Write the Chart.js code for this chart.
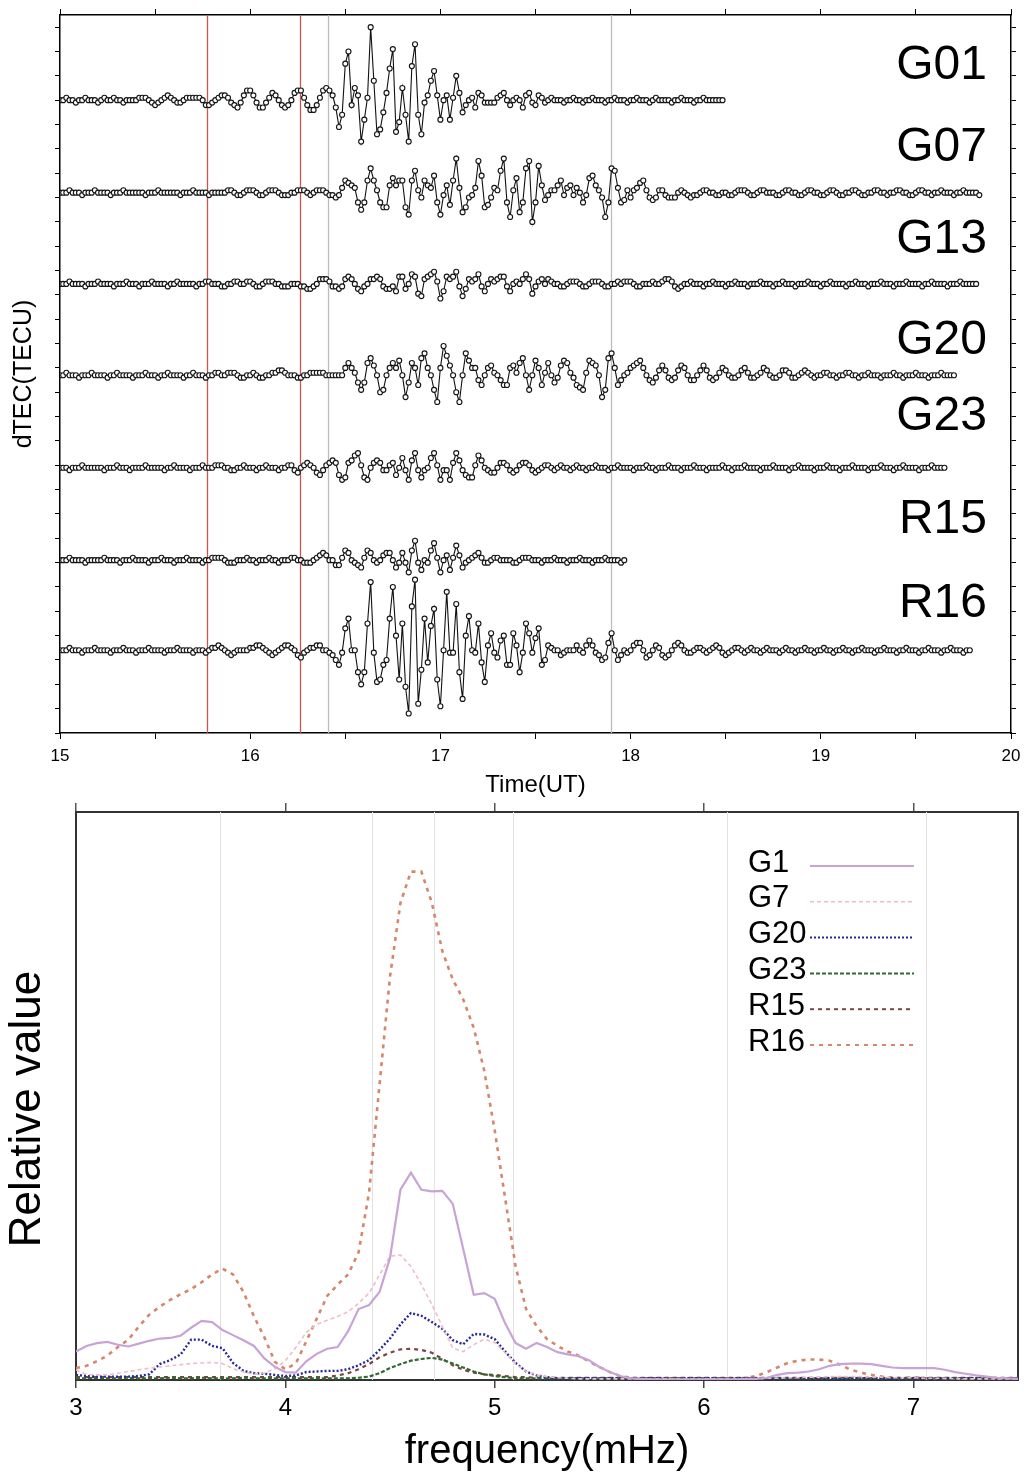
<!DOCTYPE html>
<html><head><meta charset="utf-8">
<script src="https://cdn.jsdelivr.net/npm/chart.js@4.4.1/dist/chart.umd.min.js"></script>
<style>
html,body{margin:0;padding:0;background:#fff;}
body{width:1029px;height:1472px;position:relative;overflow:hidden;}
#c1{position:absolute;left:0;top:0;}
#c2{position:absolute;left:0;top:790px;}
</style></head><body>
<canvas id="c1" width="1029" height="800"></canvas>
<canvas id="c2" width="1029" height="682"></canvas>
<script>
// ---------- TOP PANEL DATA (dTEC, 1-minute samples from 15:00 UT) ----------
const t0 = 15;
const dtMin = 1 / 60;
const satNames = ['G01', 'G07', 'G13', 'G20', 'G23', 'R15', 'R16'];

const dG01 = [
0,0,1,0,0,-1,0,0,1,0, 0,0,-1,0,1,0,0,1,0,0, -1,0,0,0,0,1,1,1,0,-1, -2,-1,0,1,2,1,0,-1,-1,0,
1,1,1,1,1,0,-2,-2,-1,0, 1,2,2,1,-1,-2,-3,-1,2,4, 4,2,-1,-3,-3,-1,1,3,2,0, -2,-3,-2,0,3,4,4,1,-2,-4,
-4,-2,1,4,5,4,2,-3,-11,-6, 15,20,-2,5,2,-17,-8,1,30,8, -14,-12,-5,3,13,21,-13,-9,5,-6, -17,14,23,-6,-14,-1,2,8,12,2,
-8,0,2,-8,1,10,3,-5,-2,0, 1,-3,3,2,-1,-1,-1,-1,1,2, 3,0,-2,0,1,0,-3,2,3,-1, -2,2,1,-1,0,1,0,0,0,-1,
0,0,1,0,0,-1,0,0,1,0, 0,0,-1,0,0,1,0,0,0,-1, 0,0,1,0,0,0,-1,0,1,0, 0,0,0,-1,0,0,1,0,0,0, -1,0,0,1,0,0,0,0,0,0];

const dG07 = [
0,0,0,1,0,0,0,-1,0,0, 0,1,0,0,0,0,-1,0,0,0, 1,0,0,0,0,0,0,-1,0,0, 0,1,0,0,0,0,0,0,-1,0,
0,0,1,0,0,0,0,-1,0,0, 0,0,0,1,1,0,-1,-1,0,1, 1,1,0,-1,-1,0,1,1,1,0, -1,-1,-1,0,0,1,1,1,0,-1,
0,1,1,1,0,-1,-1,-2,-1,2, 5,4,3,2,-4,-7,-4,5,10,5, 1,-4,-6,-6,3,6,3,5,5,-6, -9,5,9,1,-2,5,3,2,7,-4,
-9,-1,3,-5,5,14,2,-8,-6,-2, -1,2,13,7,-6,-5,-2,2,1,9, 14,-4,-10,1,6,-8,-4,10,13,-12, -4,11,3,-3,-1,1,1,3,5,-1,
2,3,-1,2,0,-4,-1,6,7,3, 1,-2,-10,-4,10,9,2,-4,-3,1, -2,1,2,4,5,1,-2,-3,-2,1, 1,-1,-2,-2,-2,0,1,0,-1,-2,
-1,-1,0,1,1,0,0,-1,-1,0, 0,-1,-1,0,1,1,1,0,-1,-1, 0,1,1,0,0,0,-1,-1,0,1, 1,0,0,-1,-1,0,1,1,0,0,
-1,-1,0,1,1,0,-1,-1,0,0, 1,1,0,-1,-1,0,0,1,1,0, 0,-1,0,0,1,1,0,0,-1,-1, 0,1,1,0,0,-1,0,0,1,0,
0,0,-1,0,0,1,0,0,0,0,-1];

const dG13 = [
0,0,0,1,0,0,0,0,-1,0, 0,0,1,0,0,0,0,-1,0,0, 0,1,0,0,0,-1,0,0,0,1, 0,0,0,0,-1,0,0,1,0,0,
0,0,0,-1,0,0,1,1,0,0, 0,-1,-1,0,0,1,1,0,0,1, 1,0,-1,-1,0,1,1,1,0,0, -1,-1,-1,0,0,0,-1,-1,-2,-2,
-1,0,2,2,2,1,-1,-1,-2,-1, 2,3,2,0,-2,-3,-1,0,2,2, 3,2,-1,-2,-2,-1,-3,3,3,-2, 0,4,3,-4,-5,2,3,4,5,1,
-6,-3,3,2,3,5,-1,-5,-2,2, 1,2,4,-1,-3,0,2,1,2,3, 3,-1,-3,0,1,0,2,4,2,-4, -1,1,2,0,2,1,0,0,-1,-1,
0,1,1,1,0,-1,-1,0,1,1, 1,0,-1,-1,0,0,1,0,1,1, 1,0,-1,-1,0,0,0,1,0,0, 1,2,2,1,-1,-2,-1,0,0,1,
0,0,0,-1,0,0,1,0,0,0, -1,0,0,1,0,0,0,-1,0,0, 0,1,0,0,0,-1,0,0,1,0, 0,0,-1,0,0,0,1,0,0,0,
-1,0,0,1,0,0,0,0,-1,0, 0,1,0,0,0,-1,0,0,0,1, 0,0,0,-1,0,0,0,1,0,0, 0,0,-1,0,0,1,0,0,0,0,
-1,0,0,0,1,0,0,0,0,0];

const dG20 = [
0,0,1,0,0,0,-1,0,0,0, 1,0,0,0,0,-1,0,0,1,0, 0,0,0,-1,0,0,0,1,0,0, 0,-1,0,0,1,0,0,0,0,-1,
0,0,1,0,0,0,-1,0,0,1, 1,0,0,1,1,1,0,-1,-1,0, 0,1,0,-1,-1,0,0,1,1,2, 2,1,0,0,0,-1,-1,0,0,1,
1,1,1,1,0,0,0,0,0,0, 3,5,3,1,-3,-6,-3,5,7,4, 0,-7,-6,0,3,5,3,6,0,-9, -3,5,3,-4,7,9,3,0,-6,-11,
3,12,8,4,0,-7,-11,0,9,6, 3,3,-2,-4,0,3,4,1,0,-2, -4,-4,3,4,1,5,7,0,-6,0, 6,3,-4,1,5,0,-3,-1,4,6,
5,1,-1,-4,-5,-6,1,6,5,4, 0,-9,-6,7,9,3,-4,-2,0,1, 3,4,5,6,3,0,-2,-3,-1,2, 4,2,-1,-2,-1,2,4,3,0,-2,
-2,0,2,4,2,-1,-2,-1,1,3, 2,0,-1,-1,0,2,3,1,-1,-1, 0,1,3,2,0,-1,-1,0,2,2, 1,-1,-1,0,1,2,1,0,-1,0,
0,1,1,0,0,-1,0,0,1,1, 0,0,-1,0,0,1,0,0,0,-1, 0,0,0,1,0,0,-1,0,0,0, 1,0,0,0,-1,0,0,0,1,0,
0,0,0];

const dG23 = [
0,0,0,-1,0,0,0,1,0,0, 0,0,0,0,-1,0,0,0,1,0, 0,0,-1,0,0,0,0,1,0,0, 0,0,0,-1,0,0,1,0,0,0,
0,-1,0,0,0,1,0,0,0,1, 1,1,0,0,-1,-1,0,0,1,0, 0,0,-1,0,0,1,0,0,0,-1, 0,0,1,1,-1,-2,0,1,2,1,
0,-2,-3,-1,1,2,3,2,-3,-5, -4,2,3,5,6,1,-4,-5,0,2, 3,2,-1,-1,1,2,-3,0,4,-1, -5,3,6,-1,-4,-1,0,4,6,1,
-5,-1,-1,-5,2,6,3,-1,-3,-4, -4,1,5,3,0,-1,-2,-2,0,2, 2,1,-1,-2,-1,1,2,2,1,-1, -2,-1,0,1,1,0,-1,0,1,0,
0,-1,0,1,0,0,-1,0,0,1, 0,0,0,-1,0,0,1,0,0,0, 0,-1,0,0,0,1,0,0,-1,0, 0,0,1,0,0,0,-1,0,0,0,
1,0,0,0,-1,0,0,0,0,1, 0,0,-1,0,0,0,1,0,0,0, 0,-1,0,0,0,1,0,0,0,0, -1,0,0,1,0,0,0,0,-1,0,
0,0,1,0,0,0,-1,0,0,0, 1,0,0,0,0,-1,0,0,0,1, 0,0,0,-1,0,0,1,0,0,0, 0,-1,0,0,0,1,0,0,0,0];

const dR15 = [
0,0,0,1,0,0,0,0,-1,0, 0,0,0,0,1,0,0,0,0,-1, 0,0,0,1,0,0,0,0,-1,0, 0,0,1,0,0,0,-1,0,0,0,
1,0,0,0,0,-1,0,0,1,1, 1,1,0,-1,-1,-1,0,0,0,1, 0,0,-1,0,0,0,1,0,0,-1, 0,0,0,1,1,0,0,-1,-1,-1,
0,1,2,3,2,0,0,-2,-2,1, 4,3,0,-1,-2,-3,1,4,3,0, -1,0,2,3,3,0,-3,-1,3,-1, -5,4,8,-1,-4,0,-1,4,7,1,
-5,0,2,-4,1,6,2,-3,-1,0, 1,2,3,1,-1,-1,0,1,1,0, 0,0,0,-1,-1,0,1,1,1,0, 0,0,-1,0,0,0,1,0,0,0,
-1,0,0,0,1,0,0,0,-1,0, 0,0,1,0,0,0,0,-1,0];

const dR16 = [
0,0,0,1,0,0,0,-1,0,0, 0,1,0,0,0,0,-1,0,0,0, 1,0,0,0,-1,0,0,0,1,0, 0,0,0,-1,0,0,0,1,0,0,
0,0,-1,0,0,0,-1,0,1,1, 2,1,0,-1,-2,-1,0,0,0,0, 1,1,2,2,1,0,-1,-2,-1,0, 1,2,2,1,0,-2,-3,-1,0,1,
1,2,2,0,0,-1,-2,-4,-6,-1, 9,13,0,0,-9,-14,-9,11,28,-1, -13,-12,-6,-4,13,26,6,-12,11,-15, -26,18,29,-22,-8,13,-5,10,17,-12,
-23,0,24,-1,-1,19,-9,-20,6,14, 0,-1,11,-5,-13,2,7,-1,-3,4, 6,-6,-6,7,2,-9,-1,11,7,-1, 5,9,-6,-4,2,1,0,0,-2,-1,
0,0,0,2,0,-1,2,4,2,-1, -2,-4,-3,3,7,0,-4,-2,0,-1, 0,2,3,3,0,-3,-2,0,2,1, -2,-3,-2,0,2,3,2,0,-1,-1,
0,1,1,0,-1,0,1,2,1,-1, -2,-1,0,1,1,0,-1,0,1,0, 0,-1,0,1,0,0,0,-1,0,1, 0,0,-1,0,0,1,0,0,-1,0,
0,1,0,0,-1,0,0,1,0,0, -1,0,0,1,0,0,0,-1,0,0, 1,0,0,0,-1,0,0,1,0,0, 0,-1,0,0,1,0,0,0,-1,0,
0,1,0,0,0,-1,0,0];

// stacking levels of each trace and label heights (y-axis units)
const traceLevels = [260, 222, 184.5, 147, 109, 71, 34];
const labelLevels = [274, 240.5, 202.5, 161, 130, 87.5, 53];
// marker times (UT hours)
const eventTimes = [15.773, 16.262, 16.409, 17.897];
const eventColors = ['#c9574c', '#c9574c', '#bcbcbc', '#bcbcbc'];

// ---------- BOTTOM PANEL DATA (spectra) ----------
const freq = [3,3.05,3.1,3.15,3.2,3.25,3.3,3.35,3.4,3.45,3.5,3.55,3.6,3.65,3.7,3.75,3.8,3.85,3.9,3.95,
4,4.05,4.1,4.15,4.2,4.25,4.3,4.35,4.4,4.45,4.5,4.55,4.6,4.65,4.7,4.75,4.8,4.85,4.9,4.95,
5,5.05,5.1,5.15,5.2,5.25,5.3,5.35,5.4,5.45,5.5,5.55,5.6,5.65,5.7,5.75,5.8,5.85,5.9,5.95,
6,6.05,6.1,6.15,6.2,6.25,6.3,6.35,6.4,6.45,6.5,6.55,6.6,6.65,6.7,6.75,6.8,6.85,6.9,6.95,
7,7.05,7.1,7.15,7.2,7.25,7.3,7.35,7.4,7.45,7.5];
const specNames = ['G1', 'G7', 'G20', 'G23', 'R15', 'R16'];
const sG1 = [5.0,6.0,6.5,6.7,6.2,5.9,6.4,6.9,7.3,7.4, 7.8,9.2,10.4,10.2,8.8,7.9,7.0,6.0,3.8,2.3,
1.4,1.3,3.3,4.6,5.5,5.8,8.6,12.5,13.2,15.5, 21.5,33.5,36.5,33.5,33.2,33.3,31,23,15,15.3,
14.3,10,6.5,5.5,6.5,5.8,4.9,4.5,4.2,3.5, 2.3,1.4,0.7,0.3,0.2,0.1,0.1,0.1,0.1,0.1,
0.1,0.1,0.1,0.1,0.2,0.2,0.4,0.9,1.2,1.3, 1.5,1.9,2.5,2.8,2.9,2.9,2.8,2.5,2.2,2.1,
2.1,2.1,2.1,1.8,1.4,1.1,0.8,0.6,0.4,0.3, 0.2];
const sG7 = [1.8,1.0,0.9,0.9,1.2,1.5,1.8,2.1,2.3,2.5, 2.7,2.9,3.0,3.1,2.9,2.0,1.4,1.0,1.2,2.0,
3.4,5.7,8.4,9.8,10.5,11.2,12,13.5,15.3,18.5, 21.8,22,20,16.8,13.3,9.4,5.6,5.0,6.2,7.2,
6.6,4.8,2.8,1.5,0.9,0.6,0.4,0.3,0.2,0.2, 0.2,0.2,0.2,0.2,0.2,0.2,0.2,0.2,0.2,0.2,
0.2,0.2,0.2,0.2,0.2,0.2,0.3,0.3,0.4,0.4, 0.5,0.5,0.6,0.6,0.6,0.6,0.5,0.5,0.4,0.4,
0.4,0.3,0.3,0.3,0.2,0.2,0.2,0.2,0.2,0.2, 0.2];
const sG20 = [0.9,0.7,0.6,0.6,0.6,0.6,0.7,1.0,2.8,3.5, 4.5,7.1,7.1,6.0,5.6,3.0,1.6,1.2,1.1,0.9,
0.7,0.8,1.4,1.5,1.6,1.6,1.9,2.6,3.5,5.3, 7.3,9.8,11.8,11.3,10.2,9.0,7.0,6.3,8.1,8.0,
7.2,5.0,3.0,1.5,0.8,0.5,0.3,0.3,0.3,0.3, 0.3,0.3,0.3,0.2,0.3,0.3,0.3,0.2,0.3,0.3,
0.3,0.3,0.2,0.3,0.3,0.3,0.3,0.2,0.3,0.3, 0.3,0.3,0.3,0.2,0.3,0.3,0.3,0.3,0.2,0.3,
0.3,0.3,0.3,0.3,0.2,0.3,0.3,0.3,0.3,0.2, 0.3];
const sG23 = [0.3,0.3,0.4,0.3,0.3,0.4,0.3,0.3,0.3,0.4, 0.3,0.3,0.4,0.3,0.3,0.3,0.4,0.3,0.3,0.3,
0.3,0.3,0.3,0.3,0.3,0.3,0.3,0.4,0.6,1.2, 2.1,2.8,3.4,3.7,3.9,3.6,2.9,2.2,1.5,1.0,
0.7,0.5,0.3,0.3,0.3,0.3,0.3,0.3,0.3,0.3, 0.3,0.3,0.3,0.3,0.3,0.3,0.3,0.3,0.3,0.3,
0.3,0.3,0.3,0.3,0.3,0.3,0.3,0.3,0.3,0.3, 0.3,0.3,0.3,0.3,0.3,0.3,0.3,0.3,0.3,0.3,
0.3,0.3,0.3,0.3,0.3,0.3,0.3,0.3,0.3,0.3, 0.3];
const sR15 = [0.5,0.5,0.5,0.5,0.5,0.5,0.5,0.5,0.5,0.5, 0.5,0.5,0.5,0.5,0.5,0.5,0.5,0.5,0.5,0.5,
0.5,0.5,0.5,0.5,0.5,0.8,1.2,1.9,2.8,4.0, 4.8,5.4,5.5,5.3,4.8,3.7,2.6,1.8,1.3,1.0,
0.9,0.7,0.5,0.5,0.4,0.4,0.4,0.4,0.4,0.4, 0.4,0.4,0.4,0.4,0.4,0.4,0.4,0.4,0.4,0.4,
0.4,0.4,0.4,0.4,0.4,0.4,0.4,0.4,0.4,0.4, 0.4,0.4,0.4,0.4,0.4,0.4,0.4,0.4,0.4,0.4,
0.4,0.4,0.4,0.4,0.4,0.4,0.4,0.4,0.4,0.4, 0.4];
const sR16 = [2.1,2.5,3.3,4.3,5.8,7.1,9.4,11.5,12.9,14.1, 15.1,16.0,17.2,18.6,19.6,18.6,15.5,11.2,7.5,3.2,
1.9,2.9,6.8,10.8,14.8,16.8,18.6,22.5,33,52, 71,84,89.5,89.5,84,75.5,70.5,67,62,54.5,
44,32,20,12.5,9.5,7.2,6,5,4.3,3.3, 2.3,1.4,0.7,0.4,0.2,0.2,0.2,0.2,0.2,0.2,
0.2,0.2,0.2,0.2,0.4,0.7,1.4,2.2,3.0,3.4, 3.6,3.6,3.4,2.7,1.8,1.3,0.9,0.6,0.4,0.3,
0.5,0.3,0.2,0.2,0.2,0.2,0.2,0.2,0.2,0.2, 0.2];
// reference frequency lines (mHz)
const refFreqs = [3.687, 4.413, 4.709, 5.086, 6.112, 7.062];

// ---------- STYLE ----------
const FONT = '"Liberation Sans", Arial, Helvetica, sans-serif';
Chart.defaults.font.family = FONT;
Chart.defaults.color = '#000';
Chart.defaults.animation = false;

// ---------- TOP CHART ----------
const topSeries = [dG01, dG07, dG13, dG20, dG23, dR15, dR16];
const topDatasets = topSeries.map((arr, k) => ({
  label: satNames[k],
  data: arr.map((v, i) => ({ x: t0 + i * dtMin, y: v + traceLevels[k] })),
  borderColor: '#111111', borderWidth: 1.1,
  pointRadius: 2.5, pointBorderWidth: 1.15,
  pointBackgroundColor: '#ffffff', pointBorderColor: '#151515',
  tension: 0, xAxisID: 'x', yAxisID: 'y'
}));

const eventLines = {
  id: 'eventLines',
  beforeDatasetsDraw(chart) {
    const { ctx, chartArea: a, scales: { x } } = chart;
    ctx.save();
    eventTimes.forEach((t, i) => {
      const px = Math.round(x.getPixelForValue(t)) + 0.5;
      ctx.strokeStyle = eventColors[i]; ctx.lineWidth = 1.3;
      ctx.beginPath(); ctx.moveTo(px, a.top); ctx.lineTo(px, a.bottom); ctx.stroke();
    });
    ctx.restore();
  }
};
const satLabels = {
  id: 'satLabels',
  afterDatasetsDraw(chart) {
    const { ctx, chartArea: a, scales: { y } } = chart;
    ctx.save();
    ctx.font = '48px ' + FONT; ctx.fillStyle = '#000';
    ctx.textAlign = 'right'; ctx.textBaseline = 'middle';
    satNames.forEach((n, k) => ctx.fillText(n, a.right - 24, y.getPixelForValue(labelLevels[k])));
    ctx.restore();
  }
};

const axisLine = { display: true, color: '#000', width: 1.5 };
new Chart(document.getElementById('c1'), {
  type: 'line',
  data: { datasets: topDatasets },
  options: {
    responsive: false, devicePixelRatio: 1, animation: false,
    layout: { padding: 0 },
    plugins: { legend: { display: false }, tooltip: { enabled: false } },
    scales: {
      x: {
        type: 'linear', position: 'bottom', min: 15, max: 20,
        ticks: { stepSize: 0.5, autoSkip: false, maxRotation: 0, padding: 7, color: '#000',
          font: { size: 17 }, callback: v => Number.isInteger(v) ? String(v) : '' },
        grid: { drawOnChartArea: false, drawTicks: true, tickLength: 6, color: '#000', lineWidth: 1 },
        border: axisLine,
        title: { display: true, text: 'Time(UT)', color: '#000', font: { size: 24, lineHeight: 1 }, padding: { top: 0, bottom: 3 } },
        afterFit: s => { s.height = 67; }
      },
      x2: {
        type: 'linear', position: 'top', min: 15, max: 20,
        ticks: { stepSize: 0.5, display: false, autoSkip: false },
        grid: { drawOnChartArea: false, drawTicks: true, tickLength: 6, color: '#000', lineWidth: 1 },
        border: axisLine,
        afterFit: s => { s.height = 15; }
      },
      y: {
        type: 'linear', position: 'left', min: 0, max: 295,
        ticks: { stepSize: 10, display: false, includeBounds: false, autoSkip: false },
        grid: { drawOnChartArea: false, drawTicks: true, tickLength: 5, color: '#000', lineWidth: 1 },
        border: axisLine,
        title: { display: true, text: 'dTEC(TECU)', color: '#000', font: { size: 25, lineHeight: 1 }, padding: { top: 12, bottom: 0 } },
        afterFit: s => { s.width = 60; }
      },
      y2: {
        type: 'linear', position: 'right', min: 0, max: 295,
        ticks: { stepSize: 10, display: false, includeBounds: false, autoSkip: false },
        grid: { drawOnChartArea: false, drawTicks: true, tickLength: 5, color: '#000', lineWidth: 1 },
        border: axisLine,
        afterFit: s => { s.width = 18; }
      }
    }
  },
  plugins: [eventLines, satLabels]
});

// ---------- BOTTOM CHART ----------
const specSeries = [sG1, sG7, sG20, sG23, sR15, sR16];
const specStyles = [
  { color: '#c8a4d6', width: 2.2, dash: [] },
  { color: '#f0bcc6', width: 1.6, dash: [4, 3] },
  { color: '#28289a', width: 2.4, dash: [2, 2] },
  { color: '#2f6a33', width: 2.2, dash: [4, 2] },
  { color: '#7d4444', width: 2.2, dash: [4, 4] },
  { color: '#d4876a', width: 2.6, dash: [4, 5] }
];
const specDatasets = specSeries.map((arr, k) => ({
  label: specNames[k],
  data: arr.map((v, i) => ({ x: freq[i], y: v })),
  borderColor: specStyles[k].color, borderWidth: specStyles[k].width, borderDash: specStyles[k].dash,
  pointRadius: 0, tension: 0, xAxisID: 'x', yAxisID: 'y'
}));

const refLines = {
  id: 'refLines',
  beforeDatasetsDraw(chart) {
    const { ctx, chartArea: a, scales: { x } } = chart;
    ctx.save();
    ctx.strokeStyle = '#e2e2e2'; ctx.lineWidth = 1;
    refFreqs.forEach(f => {
      const px = Math.round(x.getPixelForValue(f)) + 0.5;
      ctx.beginPath(); ctx.moveTo(px, a.top); ctx.lineTo(px, a.bottom); ctx.stroke();
    });
    ctx.restore();
  }
};
const specLegend = {
  id: 'specLegend',
  afterDatasetsDraw(chart) {
    const { ctx } = chart;
    ctx.save();
    ctx.font = '31px ' + FONT; ctx.fillStyle = '#000';
    ctx.textAlign = 'left'; ctx.textBaseline = 'middle';
    chart.data.datasets.forEach((ds, i) => {
      const yy = 73 + i * 35.8;
      ctx.fillText(ds.label, 748, yy);
      ctx.strokeStyle = ds.borderColor; ctx.lineWidth = Math.min(ds.borderWidth, 2);
      ctx.setLineDash(ds.borderDash || []);
      ctx.beginPath(); ctx.moveTo(810, yy + 3); ctx.lineTo(914, yy + 3); ctx.stroke();
    });
    ctx.setLineDash([]);
    ctx.translate(28, 319); ctx.rotate(-Math.PI / 2);
    ctx.font = '44px ' + FONT; ctx.textAlign = 'center';
    ctx.fillText('Relative value', 0, 0);
    ctx.restore();
  }
};

const axisLine2 = { display: true, color: '#333', width: 2 };
new Chart(document.getElementById('c2'), {
  type: 'line',
  data: { datasets: specDatasets },
  options: {
    responsive: false, devicePixelRatio: 1, animation: false,
    layout: { padding: 0 },
    plugins: { legend: { display: false }, tooltip: { enabled: false } },
    scales: {
      x: {
        type: 'linear', position: 'bottom', min: 3, max: 7.5,
        ticks: { stepSize: 1, includeBounds: false, autoSkip: false, maxRotation: 0, padding: 6, color: '#000', font: { size: 24 } },
        grid: { drawOnChartArea: false, drawTicks: true, tickLength: 8, color: '#444', lineWidth: 1.5 },
        border: axisLine2,
        title: { display: true, text: 'frequency(mHz)', color: '#000', font: { size: 40, lineHeight: 1 }, padding: { top: 0, bottom: 0 } },
        afterFit: s => { s.height = 92; }
      },
      x2: {
        type: 'linear', position: 'top', min: 3, max: 7.5,
        ticks: { stepSize: 1, display: false, includeBounds: false, autoSkip: false },
        grid: { drawOnChartArea: false, drawTicks: true, tickLength: 9, color: '#555', lineWidth: 1.5 },
        border: axisLine2,
        afterFit: s => { s.height = 22; }
      },
      y: {
        type: 'linear', position: 'left', min: 0, max: 100,
        ticks: { display: false }, grid: { display: false },
        border: axisLine2,
        afterFit: s => { s.width = 76; }
      },
      y2: {
        type: 'linear', position: 'right', min: 0, max: 100,
        ticks: { display: false }, grid: { display: false },
        border: axisLine2,
        afterFit: s => { s.width = 11; }
      }
    }
  },
  plugins: [refLines, specLegend]
});
</script>
</body></html>
